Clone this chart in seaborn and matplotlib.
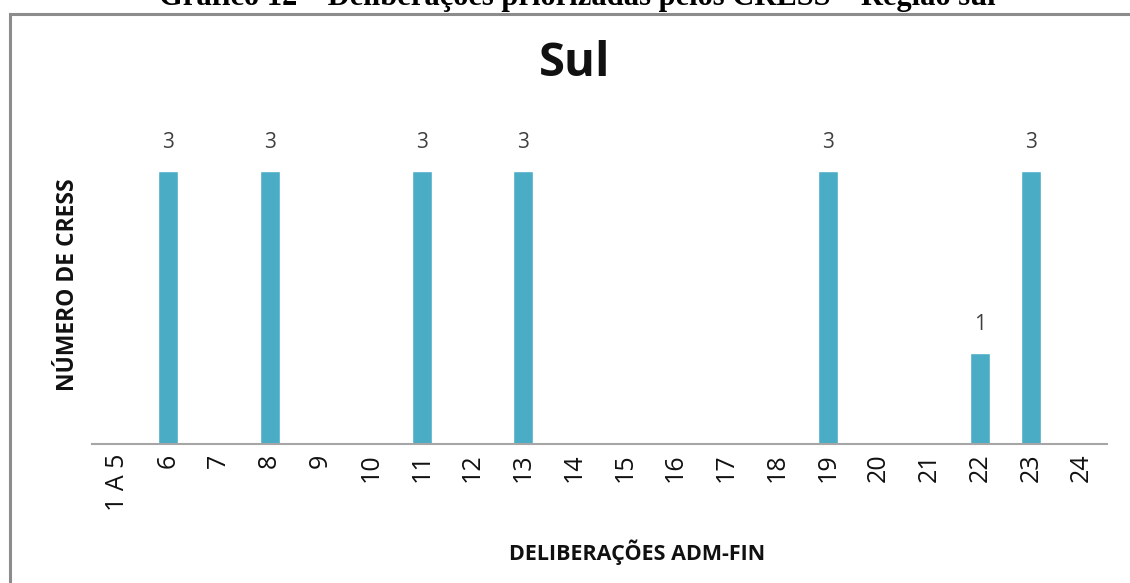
import pandas as pd
import seaborn as sns
import matplotlib
matplotlib.use('Agg')
from matplotlib import pyplot as plt
from matplotlib.patches import Rectangle

sns.set_style('white')
plt.rcParams['font.family'] = ['Open Sans', 'DejaVu Sans']

deliberacoes = ['1 A 5', '6', '7', '8', '9', '10', '11', '12', '13', '14',
                '15', '16', '17', '18', '19', '20', '21', '22', '23', '24']
num_cress = [0, 3, 0, 3, 0, 0, 3, 0, 3, 0, 0, 0, 0, 0, 3, 0, 0, 1, 3, 0]

df = pd.DataFrame({'Deliberacao': deliberacoes, 'Cress': num_cress})

fig = plt.figure(figsize=(11.3, 5.83), dpi=100)
ax = fig.add_axes([92/1130, 1-444/583, (1107-92)/1130, (444-120)/583])

sns.barplot(x='Deliberacao', y='Cress', data=df, color='#4BACC6', saturation=1,
            width=0.39, ax=ax)
ax.set_ylim(0, 3.56)
ax.set_xlim(-0.5, len(deliberacoes) - 0.5)

for i, v in enumerate(num_cress):
    if v > 0:
        ax.text(i, v + 0.2, str(v), ha='center', va='bottom', fontsize=15, color='#404040')

sns.despine(ax=ax, left=True)
ax.spines['bottom'].set_color('#A6A6A6')
ax.spines['bottom'].set_linewidth(1.5)
ax.set_yticks([])
ax.tick_params(axis='x', length=0, labelsize=18, labelcolor='#111111', pad=7)
plt.setp(ax.get_xticklabels(), rotation=90)
ax.set_xlabel('')
ax.set_ylabel('')

fig.text(68/1130, 1-285/583, 'NÚMERO DE CRESS', rotation=90, ha='center', va='center',
         fontsize=16.5, fontweight='bold', color='#111111')
fig.text(637/1130, 1-552/583, 'DELIBERAÇÕES ADM-FIN', ha='center', va='center',
         fontsize=15.5, fontweight='bold', color='#111111')
fig.text(575/1130, 1-63/583, 'Sul', ha='center', va='center',
         fontsize=34, fontweight='bold', color='#111111')

# cropped document caption at the very top
fig.text(577/1130, 1-5.5/583, 'Gráfico 12 – Deliberações priorizadas pelos CRESS – Região sul',
         ha='center', va='baseline', fontsize=22, fontweight='bold',
         family=['Liberation Serif', 'DejaVu Serif'], color='black')

fig.patches.append(Rectangle((9.5/1130, -0.05), 1.1, 1-13.5/583+0.05, transform=fig.transFigure,
                             fill=False, edgecolor='#8C8C8C', linewidth=2.2))

fig.savefig('out.png', dpi=100)
